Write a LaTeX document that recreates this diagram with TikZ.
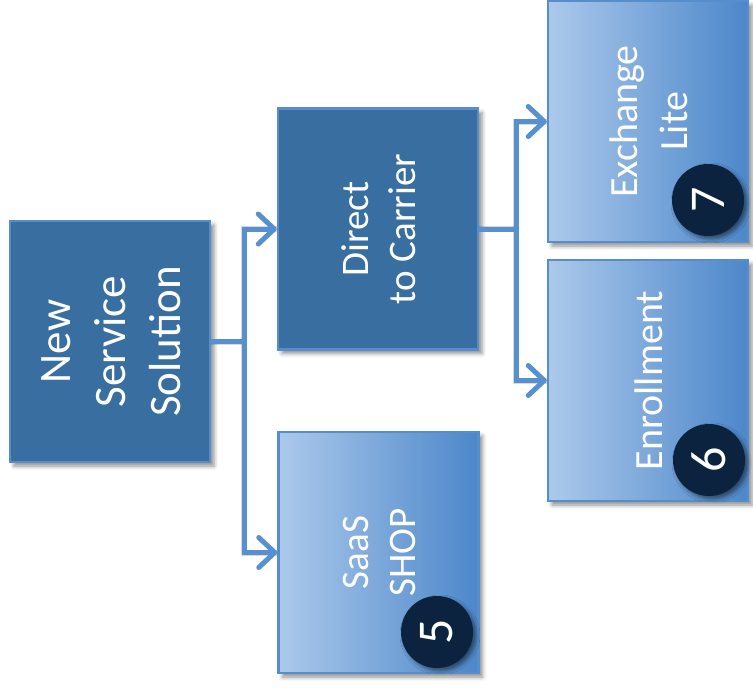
\documentclass[tikz,border=0pt]{standalone}
\usepackage{fontspec}
\setmainfont{Carlito}
\usetikzlibrary{arrows.meta,shadows.blur}

\definecolor{boxdark}{RGB}{56,110,160}
\definecolor{boxedge}{RGB}{86,142,204}
\definecolor{gradlight}{RGB}{172,201,235}
\definecolor{graddark}{RGB}{76,135,202}
\definecolor{wire}{RGB}{86,144,207}
\definecolor{badgefill}{RGB}{12,35,64}

% text turned to read from bottom to top, nudged a little to the right
\newcommand{\vlabel}[1]{\hspace*{9pt}\rotatebox{90}{\begin{tabular}{@{}c@{}}#1\end{tabular}}}

\tikzset{
  box/.style={draw=boxedge, line width=2.5pt, minimum width=200pt,
    minimum height=241pt, inner sep=0pt, text=white,
    blur shadow={shadow xshift=4pt, shadow yshift=-4pt,
      shadow blur radius=4pt, shadow opacity=45}},
  darkbox/.style={box, fill=boxdark},
  lightbox/.style={box, left color=gradlight, right color=graddark},
  badge/.style={circle, fill=badgefill, minimum size=72pt, inner sep=0pt,
    text=white, font=\fontsize{50}{60}\selectfont,
    blur shadow={shadow xshift=3pt, shadow yshift=-3pt,
      shadow blur radius=4pt, shadow opacity=50}},
  wireline/.style={draw=wire, line width=5pt},
  wireshadow/.style={draw=black, opacity=0.15, line width=6pt,
    shift={(3,3)}},
  arr/.style={-{Straight Barb[length=16pt,width=30pt,round]}},
}

\begin{document}
\begin{tikzpicture}[x=1pt, y=-1pt]
\useasboundingbox (0,0) rectangle (753,689);

% boxes
\node[darkbox, font=\fontsize{45}{55}\selectfont] (A) at (110,341.5)
  {\vlabel{New\\Service\\Solution}};
\node[darkbox, font=\fontsize{39}{47}\selectfont] (B) at (378,229)
  {\vlabel{Direct\\to Carrier}};
\node[lightbox, font=\fontsize{39}{47}\selectfont] (C) at (378.5,552.5)
  {\vlabel{SaaS\\SHOP}};
\node[lightbox, font=\fontsize{40}{50}\selectfont] (D) at (648,121.5)
  {\vlabel{Exchange\\Lite}};
\node[lightbox, font=\fontsize{40}{50}\selectfont] (E) at (648,380.5)
  {\vlabel{Enrollment}};

% numbered badges
\node[badge] (n5) at (437,632) {\rotatebox{90}{5}};
\node[badge] (n7) at (708,200) {\rotatebox{90}{7}};
\node[badge] (n6) at (709,460) {\rotatebox{90}{6}};

% junction points of the connectors
\path (A.east) ++(33,0) coordinate (j1);
\path (B.east) ++(37,0) coordinate (j2);

% connector shadows
\begin{scope}[wireshadow]
  \draw (A.east) -- (j1);
  \draw (j1) |- (B.west);
  \draw (j1) |- (C.west);
  \draw (B.east) -- (j2);
  \draw (j2) |- (D.west);
  \draw (j2) |- (E.west);
\end{scope}

% connectors
\begin{scope}[wireline]
  \draw (A.east) -- (j1);
  \draw[arr] (j1) |- (B.west);
  \draw[arr] (j1) |- (C.west);
  \draw (B.east) -- (j2);
  \draw[arr] (j2) |- (D.west);
  \draw[arr] (j2) |- (E.west);
\end{scope}
\end{tikzpicture}
\end{document}
